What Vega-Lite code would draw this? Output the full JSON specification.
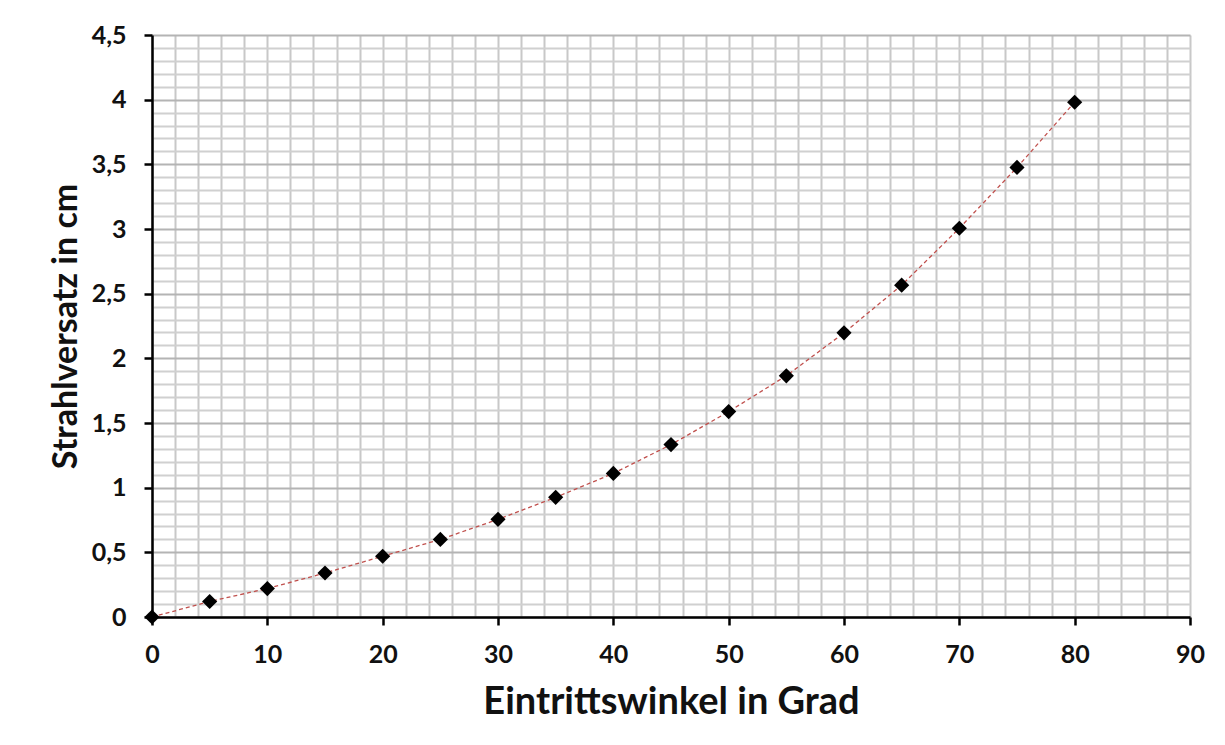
{
  "$schema": "https://vega.github.io/schema/vega-lite/v6.json",
  "width": 1038,
  "height": 582,
  "autosize": {"type": "none"},
  "padding": {"left": 152, "top": 35, "right": 35, "bottom": 128},
  "background": "white",
  "config": {"view": {"stroke": null}, "font": "Lato"},
  "data": {"values": [
    {"winkel": 0, "versatz": 0},
    {"winkel": 5, "versatz": 0.12},
    {"winkel": 10, "versatz": 0.22},
    {"winkel": 15, "versatz": 0.34},
    {"winkel": 20, "versatz": 0.47},
    {"winkel": 25, "versatz": 0.6},
    {"winkel": 30, "versatz": 0.755},
    {"winkel": 35, "versatz": 0.925},
    {"winkel": 40, "versatz": 1.11},
    {"winkel": 45, "versatz": 1.333},
    {"winkel": 50, "versatz": 1.588},
    {"winkel": 55, "versatz": 1.865},
    {"winkel": 60, "versatz": 2.197},
    {"winkel": 65, "versatz": 2.566},
    {"winkel": 70, "versatz": 3.006},
    {"winkel": 75, "versatz": 3.476},
    {"winkel": 80, "versatz": 3.98}
  ]},
  "encoding": {
    "x": {
      "field": "winkel", "type": "quantitative",
      "scale": {"domain": [0, 90], "nice": false, "zero": true},
      "axis": {
        "title": "Eintrittswinkel in Grad",
        "values": [0,2,4,6,8,10,12,14,16,18,20,22,24,26,28,30,32,34,36,38,40,42,44,46,48,50,52,54,56,58,60,62,64,66,68,70,72,74,76,78,80,82,84,86,88,90],
        "labelExpr": "datum.value % 10 === 0 ? datum.label : ''",
        "labelFlush": false, "labelOverlap": false,
        "labelFontSize": 25, "labelFontWeight": "bold", "labelColor": "#111", "labelPadding": 17,
        "titleFontSize": 38, "titleFontWeight": "bold", "titleColor": "#111", "titlePadding": 16,
        "domainColor": "#000", "domainWidth": 2.5,
        "tickColor": "#000", "tickWidth": 2.5, "tickSize": 8,
        "tickOpacity": {"condition": {"test": "datum.value % 10 === 0", "value": 1}, "value": 0},
        "grid": true, "gridColor": "#c8c8c8", "gridWidth": 2, "gridOpacity": 1
      }
    },
    "y": {
      "field": "versatz", "type": "quantitative",
      "scale": {"domain": [0, 4.5], "nice": false},
      "axis": {
        "title": "Strahlversatz in cm",
        "values": [0,0.1,0.2,0.3,0.4,0.5,0.6,0.7,0.8,0.9,1,1.1,1.2,1.3,1.4,1.5,1.6,1.7,1.8,1.9,2,2.1,2.2,2.3,2.4,2.5,2.6,2.7,2.8,2.9,3,3.1,3.2,3.3,3.4,3.5,3.6,3.7,3.8,3.9,4,4.1,4.2,4.3,4.4,4.5],
        "labelExpr": "round(datum.value*10) % 5 === 0 ? replace(format(datum.value, '.1~f'), '.', ',') : ''",
        "labelFlush": false, "labelOverlap": false,
        "labelFontSize": 25, "labelFontWeight": "bold", "labelColor": "#111", "labelPadding": 18,
        "titleFontSize": 34, "titleFontWeight": "bold", "titleColor": "#111", "titlePadding": 8,
        "domainColor": "#000", "domainWidth": 2.5,
        "tickColor": "#000", "tickWidth": 2.5, "tickSize": 8,
        "tickOpacity": {"condition": {"test": "round(datum.value*10) % 5 === 0", "value": 1}, "value": 0},
        "grid": true, "gridWidth": 2, "gridOpacity": 1,
        "gridColor": {"condition": {"test": "round(datum.value*10) % 5 === 0", "value": "#b4b4b4"}, "value": "#d0d0d0"}
      }
    }
  },
  "layer": [
    {"mark": {"type": "line", "color": "#c0504d", "strokeWidth": 1.3, "strokeDash": [4, 3]}},
    {"mark": {"type": "point", "shape": "diamond", "filled": true, "color": "#000", "opacity": 1, "size": 230}}
  ]
}
